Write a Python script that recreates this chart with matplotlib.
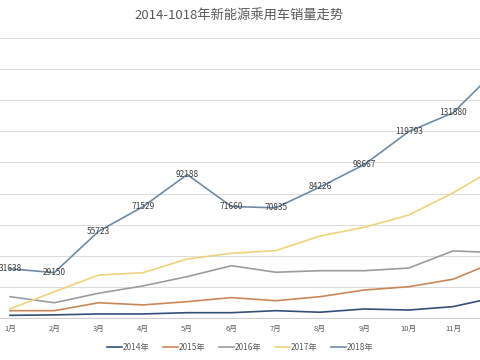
import numpy as np
import matplotlib.pyplot as plt

plt.rcParams['font.family'] = ['Noto Sans CJK SC', 'DejaVu Sans']

months = ['1月', '2月', '3月', '4月', '5月', '6月', '7月', '8月', '9月', '10月', '11月', '12月']
years = ['2014年', '2015年', '2016年', '2017年', '2018年']

# monthly sales (2018 labelled values are exact)
s2014 = [1700, 2000, 2600, 2600, 3400, 3400, 4700, 3700, 5800, 5100, 7300, 13500]
s2015 = [4700, 4700, 9800, 8400, 10500, 13100, 11100, 13700, 18000, 20100, 24900, 36600]
s2016 = [13700, 9800, 15900, 20600, 26600, 33600, 29400, 30400, 30400, 32100, 43100, 42000]
s2017 = [5800, 16900, 27600, 29100, 37900, 41600, 43300, 52700, 58300, 66200, 80400, 97000]
s2018 = [31638, 29150, 55723, 71529, 92188, 71660, 70835, 84226, 98667, 119793, 131880, 160000]
labels2018 = [31638, 29150, 55723, 71529, 92188, 71660, 70835, 84226, 98667, 119793, 131880]

colors = ['#34507a', '#c98758', '#9c9c9c', '#efd27c', '#6f8ca6']
series = [s2014, s2015, s2016, s2017, s2018]

fig = plt.figure(figsize=(4.8, 3.6), dpi=100)
# chart is cropped on both sides in the reference, so the axes span the whole width
ax = fig.add_axes([0, 0.1167, 1, 0.7778])
x = np.arange(len(months))
for s, c, name in zip(series, colors, years):
    ax.plot(x, s, color=c, lw=1.2, label=name)

for i, v in enumerate(labels2018):
    ax.text(x[i], v, str(v), ha='center', va='center', fontsize=6, color='#404040')

ax.set_xlim(-0.226, 10.61)
ax.set_ylim(0, 180000)
ax.set_yticks(np.arange(0, 180001, 20000))
ax.set_yticklabels([])
ax.tick_params(axis='y', length=0)
ax.grid(axis='y', color='#dcdcdc', lw=0.8)
ax.set_axisbelow(True)
# 12月 lies past the cropped right edge
ax.set_xticks(x[:11])
ax.set_xticklabels(months[:11], fontsize=5.5, color='#595959')
ax.tick_params(axis='x', length=0, pad=5)
for sp in ['top', 'right', 'left']:
    ax.spines[sp].set_visible(False)
ax.spines['bottom'].set_color('#d0d0d0')

fig.text(0.497, 0.958, '2014-1018年新能源乘用车销量走势', ha='center', va='center',
         fontsize=9.5, color='#595959')

fig.legend(loc='center', bbox_to_anchor=(0.5, 0.036), ncol=5, frameon=False,
           fontsize=6, handlelength=1.8, handletextpad=0.1, columnspacing=1.6,
           labelcolor='#595959')

fig.savefig('out.png', dpi=100)
